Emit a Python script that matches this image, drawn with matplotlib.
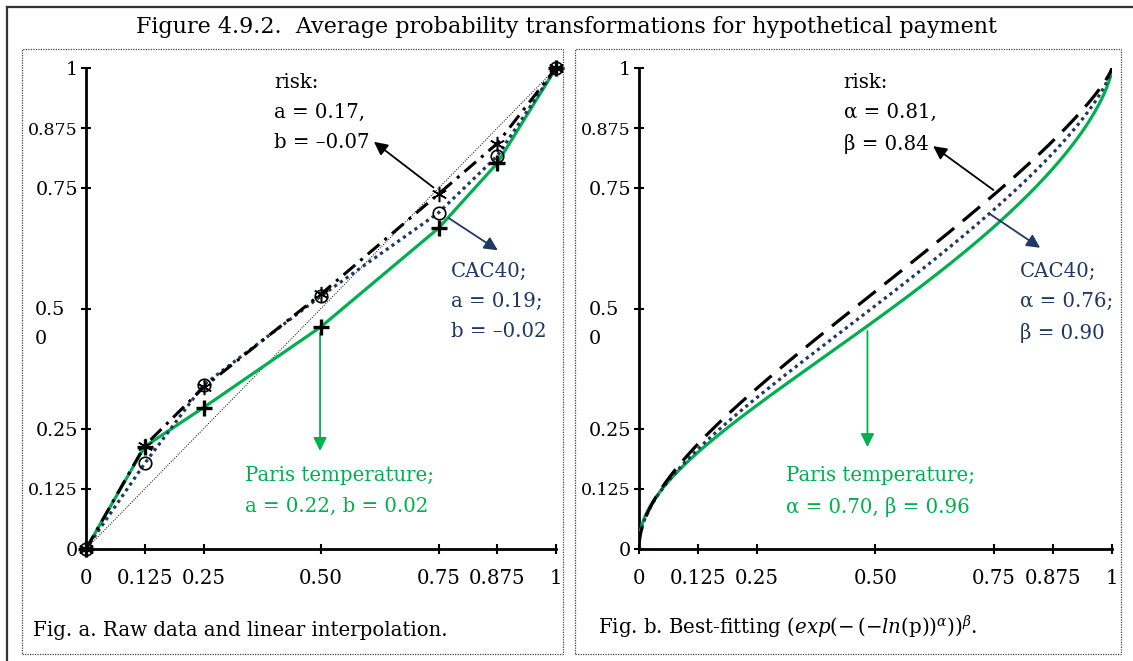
import numpy as np
import matplotlib
matplotlib.use('Agg')
import matplotlib.pyplot as plt
from matplotlib.lines import Line2D
from matplotlib.patches import Rectangle

plt.rcParams['font.family'] = ['DejaVu Serif']
plt.rcParams['mathtext.fontset'] = 'dejavuserif'

GREEN = '#00B050'
NAVY = '#1F3864'
FS = 14.2        # notes and captions
FS_X = 14.2      # x tick labels
FS_Y = 13.8      # y tick labels
FS_Y_SMALL = 12.5

# raw data (fig. a)
p_raw = [0, 0.125, 0.25, 0.5, 0.75, 0.875, 1]
risk_raw = [0, 0.215, 0.336, 0.53, 0.738, 0.843, 1]
cac_raw = [0, 0.178, 0.341, 0.526, 0.699, 0.817, 1]
paris_raw = [0, 0.213, 0.294, 0.462, 0.667, 0.802, 1]

# best-fitting Prelec parameters (fig. b)
risk_ab = (0.81, 0.84)
cac_ab = (0.76, 0.90)
paris_ab = (0.70, 0.96)

ticks = [0, 0.125, 0.25, 0.5, 0.75, 0.875, 1]
xtick_labels = ['0', '0.125', '0.25', '0.50', '0.75', '0.875', '1']
ytick_labels = ['0', '0.125', '0.25', '', '0.75', '0.875', '1']

W, H = 1133, 661
fig = plt.figure(figsize=(W / 100, H / 100), dpi=100)


def fx(x):
    return x / W


def fy(y):
    return 1 - y / H


def prelec(p, a, b):
    p = np.asarray(p, dtype=float)
    out = np.zeros_like(p)
    m = p > 0
    out[m] = np.exp(-b * (-np.log(p[m])) ** a)
    return out


# outer frame and panel boxes
fig.add_artist(Line2D([fx(7), fx(W)], [fy(7), fy(7)], color='#333333', lw=1.6))
fig.add_artist(Line2D([fx(7), fx(7)], [fy(7), fy(H)], color='#333333', lw=1.6))
for x0, x1 in [(22, 563), (575, 1121)]:
    fig.add_artist(Rectangle((fx(x0), fy(654)), fx(x1 - x0), (654 - 49) / H,
                             fill=False, ls=(0, (1, 1)), lw=0.9, ec='#444444'))

fig.text(fx(566), fy(27), 'Figure 4.9.2.  Average probability transformations for hypothetical payment',
         ha='center', va='center', fontsize=16)


def make_axes(x0, width):
    ax = fig.add_axes([fx(x0), fy(549), fx(width), 481 / H])
    ax.set_xlim(0, 1)
    ax.set_ylim(0, 1)
    for s in ['top', 'right']:
        ax.spines[s].set_visible(False)
    for s in ['left', 'bottom']:
        ax.spines[s].set_linewidth(2.0)
    ax.set_xticks(ticks)
    ax.set_xticklabels(xtick_labels, fontsize=FS_X)
    ax.set_yticks(ticks)
    ax.set_yticklabels(ytick_labels, fontsize=FS_Y)
    for lab, t in zip(ax.get_yticklabels(), ticks):
        if t in (0.125, 0.875):
            lab.set_fontsize(FS_Y_SMALL)
    ax.tick_params(direction='inout', length=7.5, width=1.5, colors='black')
    ax.tick_params(axis='x', pad=11)
    ax.tick_params(axis='y', pad=2)
    ax.patch.set_alpha(0)
    return ax


def note(ax, x, y, s, color='black'):
    ax.text(x, y, s, ha='left', va='top', fontsize=FS, linespacing=1.75, color=color)


def arrow(ax, head, tail, color='black'):
    ax.annotate('', xy=head, xytext=tail,
                arrowprops=dict(arrowstyle='-|>', color=color, lw=1.3, mutation_scale=20))


# ---- Fig. a ----
ax1 = make_axes(86, 470)
ax1.text(-0.108, 0.515, '0.5\n0', transform=ax1.transAxes, ha='left', va='top',
         fontsize=FS_Y, linespacing=1.75)
ax1.plot([0, 1], [0, 1], color='black', lw=0.7, ls=(0, (1, 1.5)))
ax1.plot(p_raw, paris_raw, color=GREEN, lw=2.3, zorder=3)
ax1.plot(p_raw, cac_raw, color=NAVY, lw=2.3, ls=(0, (1, 1.2)), zorder=4)
ax1.plot(p_raw, risk_raw, color='black', lw=2.2, ls=(0, (5, 2.2, 1, 2.2)), zorder=4)
ax1.plot(p_raw, paris_raw, ls='none', marker='+', ms=12, mew=2.4, color='black', zorder=5, clip_on=False)
ax1.plot(p_raw, cac_raw, ls='none', marker='o', ms=9, mew=1.2, mfc='none', mec='black', zorder=5, clip_on=False)
ax1.plot(p_raw, risk_raw, ls='none', marker=(6, 2, 0), ms=11, mew=1.1, color='black', zorder=5, clip_on=False)

arrow(ax1, (0.608, 0.850), (0.744, 0.748))
note(ax1, 0.40, 0.990, 'risk:\na = 0.17,\nb = –0.07')
arrow(ax1, (0.881, 0.618), (0.767, 0.691), NAVY)
note(ax1, 0.776, 0.597, 'CAC40;\na = 0.19;\nb = –0.02', NAVY)
arrow(ax1, (0.498, 0.198), (0.498, 0.455), GREEN)
note(ax1, 0.338, 0.172, 'Paris temperature;\na = 0.22, b = 0.02', GREEN)

fig.text(fx(33), fy(630), 'Fig. a. Raw data and linear interpolation.', ha='left', va='center',
         fontsize=FS)

# ---- Fig. b ----
ax2 = make_axes(639, 473)
ax2.text(-0.106, 0.515, '0.5\n0', transform=ax2.transAxes, ha='left', va='top',
         fontsize=FS_Y, linespacing=1.75)
p = np.concatenate([[0], np.logspace(-6, -2, 60), np.linspace(0.0101, 1, 500)])
ax2.plot(p, prelec(p, *paris_ab), color=GREEN, lw=2.3, zorder=3)
ax2.plot(p, prelec(p, *cac_ab), color=NAVY, lw=2.3, ls=(0, (1, 1.2)), zorder=4)
ax2.plot(p, prelec(p, *risk_ab), color='black', lw=2.3, ls=(0, (7, 3.5)), zorder=4)

arrow(ax2, (0.617, 0.841), (0.754, 0.743))
note(ax2, 0.433, 0.990, 'risk:\nα = %.2f,\nβ = %.2f' % risk_ab)
arrow(ax2, (0.853, 0.623), (0.738, 0.699), NAVY)
note(ax2, 0.805, 0.597, 'CAC40;\nα = %.2f;\nβ = %.2f' % cac_ab, NAVY)
arrow(ax2, (0.483, 0.206), (0.483, 0.459), GREEN)
note(ax2, 0.311, 0.172, 'Paris temperature;\nα = %.2f, β = %.2f' % paris_ab, GREEN)

fig.text(fx(598), fy(627),
         r'Fig. b. Best-fitting $(\mathit{exp}(-\,(-\mathit{ln}(\mathrm{p}))^{\alpha}))^{\beta}$.',
         ha='left', va='center', fontsize=FS)

fig.savefig('out.png', dpi=100)
